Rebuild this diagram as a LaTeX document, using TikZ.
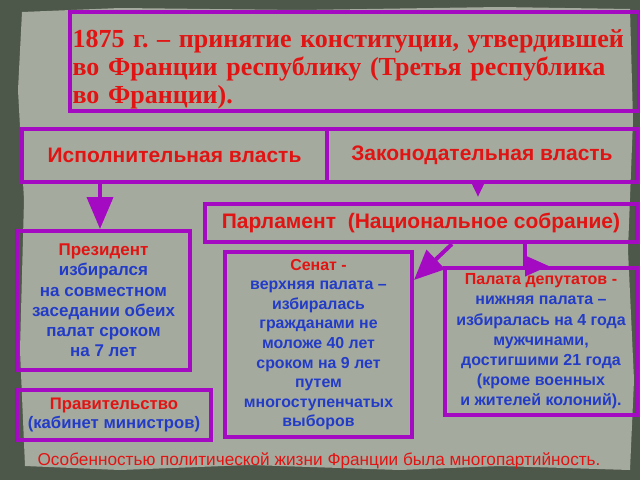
\documentclass[tikz,border=0pt]{standalone}
\usepackage{fontspec}
\setmainfont{Liberation Serif}
\setsansfont{Liberation Sans}
\usetikzlibrary{arrows.meta}
\definecolor{pbord}{RGB}{165,10,195}
\definecolor{tred}{RGB}{225,20,20}
\definecolor{tblue}{RGB}{35,60,200}
\definecolor{paper}{RGB}{165,170,158}
\definecolor{darkbg}{RGB}{78,88,74}
\frenchspacing
\tikzset{
  box/.style={draw=pbord, line width=4pt, anchor=north west, inner sep=2pt, align=center, font=\sffamily\bfseries},
  arr/.style={draw=pbord, line width=4pt},
}
\begin{document}
\begin{tikzpicture}[x=1pt,y=-1pt]
\useasboundingbox (0,0) rectangle (640,480);
\fill[darkbg] (0,0) rectangle (640,480);
\fill[paper] (22,12) -- (120,8) -- (300,10) -- (500,7) -- (630,9) -- (633,120) -- (628,250) -- (634,380) -- (630,470)
  -- (500,466) -- (400,470) -- (250,465) -- (120,470) -- (25,466) -- (20,350) -- (24,200) -- (18,90) -- cycle;
% title
\node[box, minimum width=569pt, minimum height=98pt, text width=564pt, align=left, inner sep=2pt,
  font=\rmfamily\bfseries\fontsize{26}{28}\selectfont, text=tred] (title) at (68,10)
  {\rule{0pt}{33pt}1875 г. – принятие конституции, утвердившей\\во Франции республику (Третья республика\\во Франции).};
% executive / legislative
\node[box, minimum width=305pt, minimum height=53pt, font=\sffamily\bfseries\fontsize{21}{24}\selectfont, text=tred] (exec) at (20,127) {Исполнительная власть};
\node[box, minimum width=310pt, minimum height=53pt, font=\sffamily\bfseries\fontsize{21}{24}\selectfont, text=tred] (legis) at (325,127) {Законодательная власть};
% parliament
\node[box, minimum width=432pt, minimum height=38pt, font=\sffamily\bfseries\fontsize{21}{24}\selectfont, text=tred] (parl) at (203,202) {Парламент\ \ (Национальное собрание)};
% president
\node[box, minimum width=173pt, minimum height=139pt, font=\sffamily\bfseries\fontsize{17}{20.2}\selectfont, text=tblue] (pres) at (15,229)
  {\textcolor{tred}{Президент}\\избирался\\на совместном\\заседании обеих\\палат сроком\\на 7 лет};
% government
\node[box, minimum width=194pt, minimum height=50pt, font=\sffamily\bfseries\fontsize{16.7}{19.5}\selectfont, text=tblue] (gov) at (15,388)
  {\textcolor{tred}{Правительство}\\(кабинет министров)};
% senate
\node[box, minimum width=187pt, minimum height=185pt, font=\sffamily\bfseries\fontsize{15.9}{19.6}\selectfont, text=tblue] (sen) at (223,250)
  {\textcolor{tred}{Сенат -}\\верхняя палата –\\избиралась\\гражданами не\\моложе 40 лет\\сроком на 9 лет\\путем\\многоступенчатых\\выборов};
% deputies
\node[box, minimum width=192pt, minimum height=147pt, font=\sffamily\bfseries\fontsize{16}{20.2}\selectfont, text=tblue] (dep) at (443,266)
  {\textcolor{tred}{Палата депутатов -}\\нижняя палата –\\избиралась на 4 года\\мужчинами,\\достигшими 21 года\\(кроме военных\\и жителей колоний).};
% bottom text
\node[font=\sffamily\fontsize{17.2}{20}\selectfont, text=tred, anchor=center] (note) at (319,461)
  {Особенностью политической жизни Франции была многопартийность.};
% arrows
\draw[arr, -{Triangle[width=26pt,length=32pt]}] (exec.south -| 100,0) -- (pres.north -| 100,0);
\coordinate (legtip) at (478,197);
\draw[arr, -{Triangle[width=12pt,length=14pt]}] (exec.south -| legtip) -- (legtip);
\coordinate (sentip) at (414,280);
\draw[arr, -{Triangle[width=26pt,length=30pt]}] (parl.south -| 452,0) -- (sentip);
\coordinate (deptip) at (549,266);
\draw[arr, -{Triangle[width=20pt,length=24pt]}] (parl.south -| 525,0) |- (deptip);
\end{tikzpicture}
\end{document}
